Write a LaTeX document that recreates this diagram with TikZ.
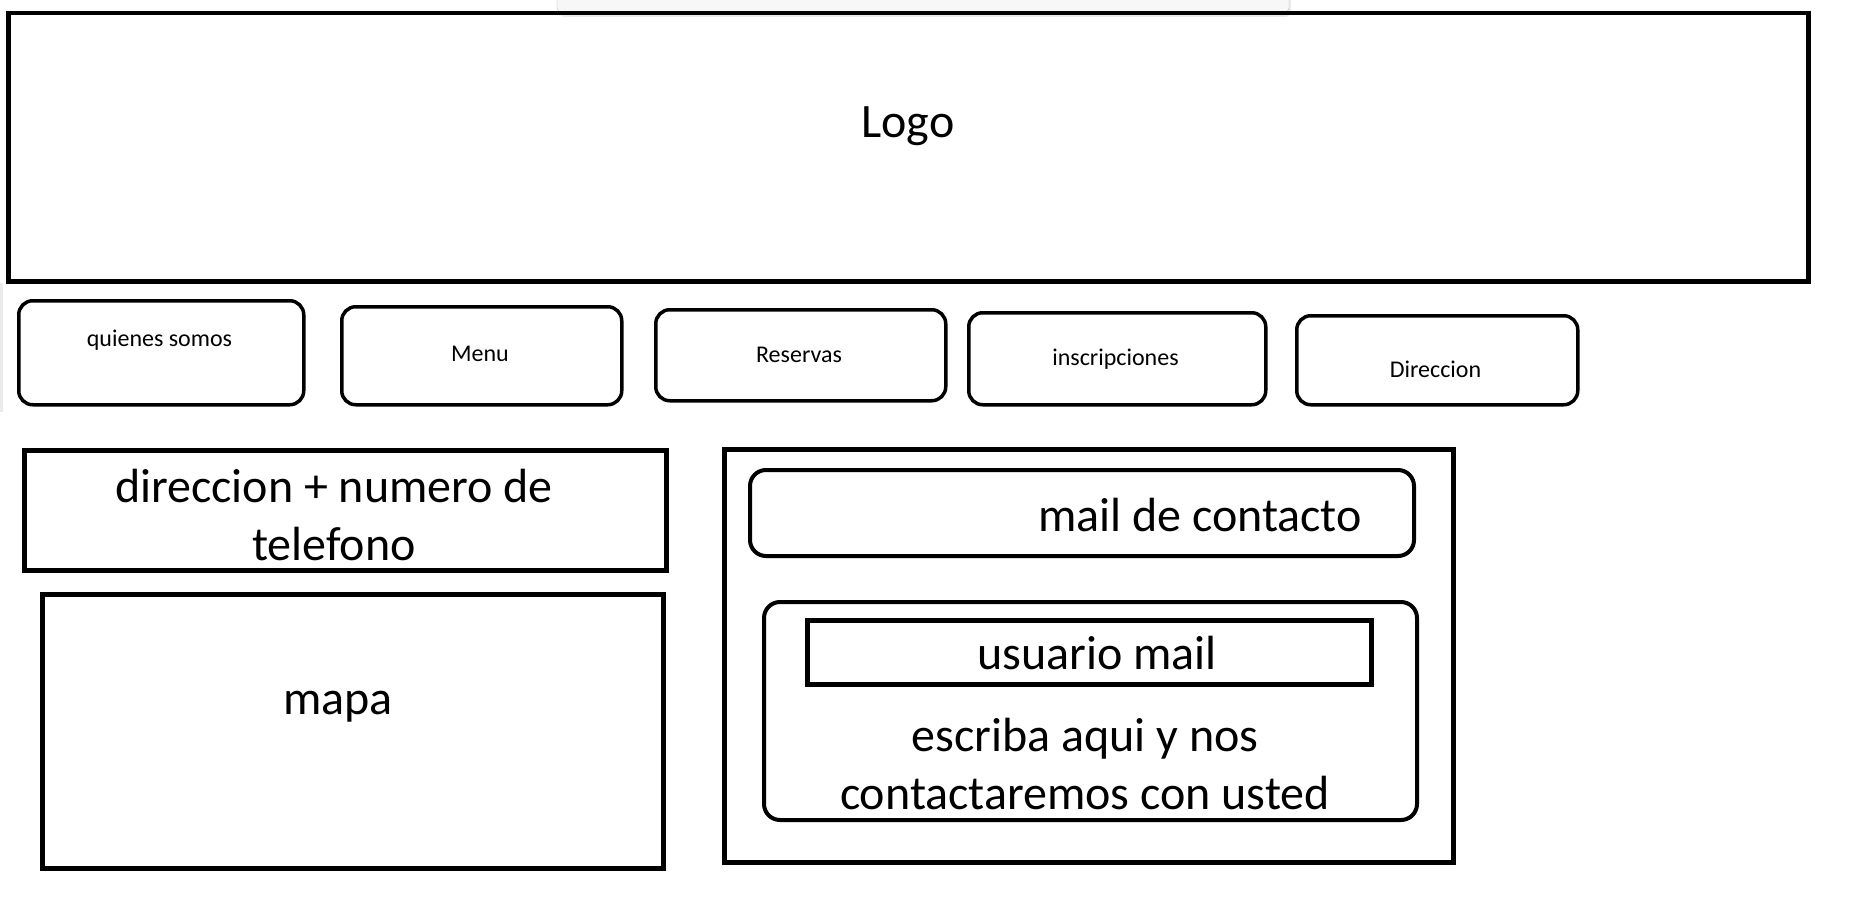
\documentclass[tikz,border=0pt]{standalone}
\usepackage{fontspec}
\setmainfont{Carlito}
\begin{document}
\begin{tikzpicture}[x=1pt,y=-1pt]
        \tikzset{
          box/.style={draw=black,line width=4.5pt,inner sep=0pt,anchor=north west},
          navbtn/.style={box,line width=3.5pt,rounded corners=14pt},
          roundbox/.style={box,line width=4pt,rounded corners=16pt},
          bigtxt/.style={font=\fontsize{48}{58}\selectfont,align=center,inner sep=0pt},
          smalltxt/.style={font=\fontsize{24}{28}\selectfont,inner sep=0pt}
        }
        \useasboundingbox (0,0) rectangle (1858,920);
        %WINDOW BAR
        \fill[black!8,rounded corners=6pt] (559,-12) rectangle (1291,17);
        \draw[draw=black!25,fill=black!3,rounded corners=6pt] (557,-12) rectangle (1289,13);
        \fill[black!8] (0,283) rectangle (3,412);
        %LOGO
        \node[box,minimum width=1800pt,minimum height=268pt] (logo) at (6,11) {};
        \node[bigtxt] (logotxt) at (908,126) {Logo};
        %MENU BUTTONS
        \foreach \xa/\ya/\xb/\yb/\ty/\txt [count=\i] in {17/299/302/403/340/quienes somos,
            340/305/620/403/354/Menu,654/308/944/399/355/Reservas,
            967/311/1264/403/359/inscripciones,1295/314/1576/403/369/Direccion}{
            \node[navbtn,minimum width=\xb pt-\xa pt,minimum height=\yb pt-\ya pt] (btn\i) at (\xa,\ya) {};
            \node[smalltxt] (btntxt\i) at ({(\xa+\xb)/2},\ty) {\txt};
        }
        %DIRECCION
        \node[box,minimum width=642pt,minimum height=120pt] (dir) at (22,448) {};
        \node[bigtxt] (dirtxt) at (334,515) {direccion + numero de\\telefono};
        %MAPA
        \node[box,minimum width=621pt,minimum height=274pt] (mapa) at (40,592) {};
        \node[bigtxt] (mapatxt) at (338,707) {mapa};
        %CONTACTO
        \node[box,minimum width=729pt,minimum height=413pt] (contacto) at (722,447) {};
        \node[roundbox,minimum width=664pt,minimum height=86pt] (mail) at (748,468) {};
        \node[bigtxt] (mailtxt) at (1200,515) {mail de contacto};
        \node[roundbox,minimum width=653pt,minimum height=218pt] (form) at (762,600) {};
        \node[box,minimum width=564pt,minimum height=64pt] (usuario) at (805,618) {};
        \node[bigtxt] (usuariotxt) at (1097,653) {usuario mail};
        \node[bigtxt] (msgtxt) at (1085,764) {escriba aqui y nos\\contactaremos con usted};
\end{tikzpicture}
\end{document}
